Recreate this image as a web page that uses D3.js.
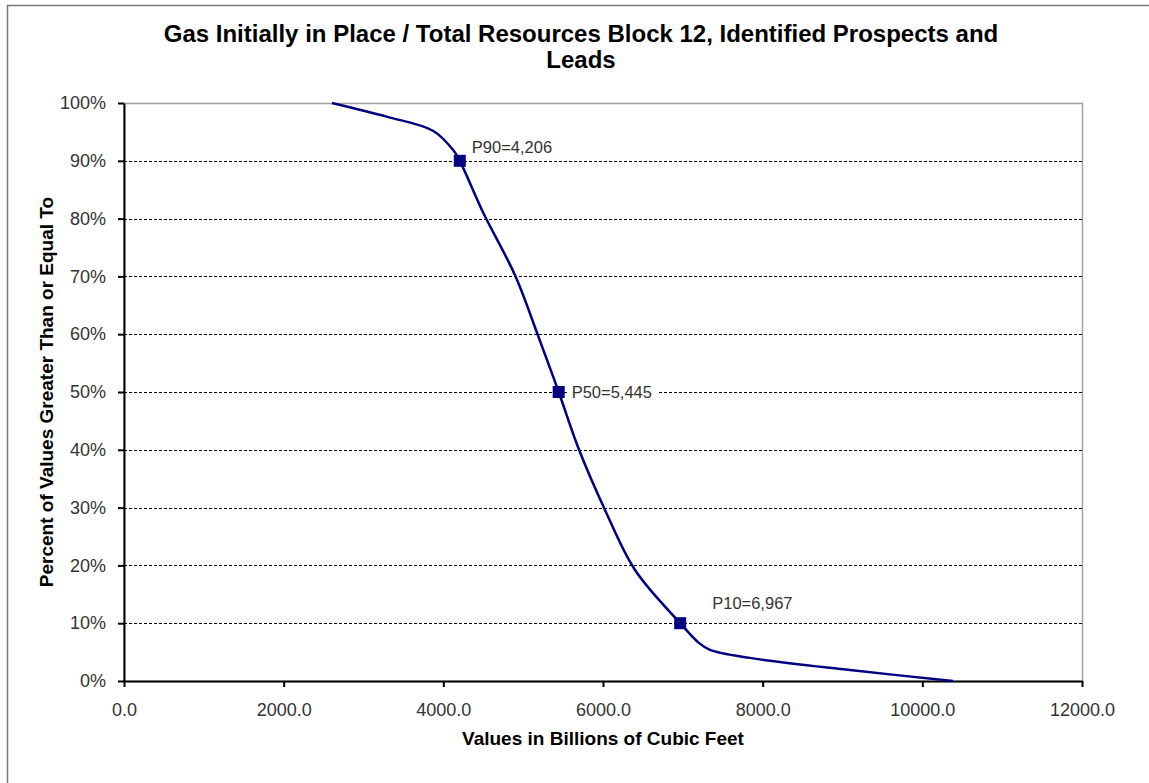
<!DOCTYPE html>
<html>
<head>
<meta charset="utf-8">
<script src="https://cdn.jsdelivr.net/npm/d3@7"></script>
<style>
  body { margin: 0; background: #fff; }
  svg { display: block; }
</style>
</head>
<body>
<svg id="chart" width="1149" height="783"></svg>
<script>
// Cumulative curve (x in BCF, y in %)
const curveX = [2605, 3300, 3870, 4121, 4206, 4500, 4898, 5180, 5445, 5700, 6025, 6401, 6967, 7200, 7340, 7841, 9094, 10384];
const curveY = [100, 97.6, 95.2, 91.9, 90, 81, 70.2, 60, 50, 40, 29.6, 19.2, 10, 6.6, 5.4, 4.0, 1.9, 0];

// Marked percentiles
const markerLabels = ["P90=4,206", "P50=5,445", "P10=6,967"];
const markerX = [4206, 5445, 6967];
const markerY = [90, 50, 10];

const xTicks = [0, 2000, 4000, 6000, 8000, 10000, 12000];
const yTicks = [0, 10, 20, 30, 40, 50, 60, 70, 80, 90, 100];

const margin = { top: 103, right: 67, bottom: 102, left: 124 };
const width = 1149, height = 783;
const innerWidth = width - margin.left - margin.right;
const innerHeight = height - margin.top - margin.bottom;

const font_family = 'Arial, "Liberation Sans", sans-serif';
const navy = '#000080';

const svg = d3.select("#chart");

// Outer chart border
svg.append("rect")
    .attr("x", 7.5).attr("y", 5.5)
    .attr("width", 1160).attr("height", 800)
    .attr("fill", "none")
    .attr("stroke", "#777")
    .attr("stroke-width", 1.5);

const xScale = d3.scaleLinear().domain([0, 12000]).range([0, innerWidth]);
const yScale = d3.scaleLinear().domain([0, 100]).range([innerHeight, 0]);

const g = svg.append("g")
    .attr("transform", `translate(${margin.left}, ${margin.top})`);

// Plot area border (top and right in gray)
g.append("rect")
    .attr("x", 0).attr("y", 0.5)
    .attr("width", innerWidth + 0.5).attr("height", innerHeight)
    .attr("fill", "none")
    .attr("stroke", "#a0a0a0")
    .attr("stroke-width", 1.5);

// Grid lines
g.selectAll(".grid")
    .data(yTicks.filter(d => d > 0 && d < 100))
    .enter().append("line")
    .attr("x1", 0).attr("x2", innerWidth)
    .attr("y1", d => Math.round(yScale(d)) + 0.5)
    .attr("y2", d => Math.round(yScale(d)) + 0.5)
    .attr("stroke", "#000")
    .attr("stroke-width", 1)
    .attr("stroke-dasharray", "3,2");

// Axes
const xAxis = g.append("g")
    .attr("transform", `translate(0, ${innerHeight})`)
    .call(d3.axisBottom(xScale).tickValues(xTicks).tickFormat(d3.format(".1f")).tickSize(6).tickSizeOuter(0));

const yAxis = g.append("g")
    .call(d3.axisLeft(yScale).tickValues(yTicks).tickFormat(d => d + "%").tickSize(6).tickSizeOuter(0));

[xAxis, yAxis].forEach(ax => {
    ax.select(".domain").attr("stroke", "#000").attr("stroke-width", 2);
    ax.selectAll(".tick line").attr("stroke", "#000").attr("stroke-width", 2);
    ax.selectAll("text")
        .style("font-size", "18px")
        .style("font-family", font_family)
        .style("fill", "#333");
});
xAxis.selectAll("text").attr("y", 35).attr("dy", 0);
yAxis.selectAll("text").attr("x", -18);

// Curve
const line = d3.line()
    .x((d, i) => xScale(curveX[i]))
    .y(d => yScale(d))
    .curve(d3.curveCatmullRom.alpha(0.5));

g.append("path")
    .datum(curveY)
    .attr("d", line)
    .attr("fill", "none")
    .attr("stroke", navy)
    .attr("stroke-width", 2.5);

// Markers
g.selectAll(".marker")
    .data(markerX)
    .enter().append("rect")
    .attr("x", d => xScale(d) - 6)
    .attr("y", (d, i) => yScale(markerY[i]) - 6)
    .attr("width", 12).attr("height", 12)
    .attr("fill", navy);

// Marker labels
const labelOffsets = [[12, -8], [13, 6], [32, -14]];
const labels = g.selectAll(".mlabel")
    .data(markerLabels)
    .enter().append("g")
    .attr("transform", (d, i) => `translate(${xScale(markerX[i]) + labelOffsets[i][0]}, ${yScale(markerY[i]) + labelOffsets[i][1]})`);

labels.append("rect")
    .attr("x", -4).attr("y", -15)
    .attr("width", 90).attr("height", 20)
    .attr("fill", (d, i) => i === 1 ? "#fff" : "none");

labels.append("text")
    .attr("font-family", font_family)
    .attr("font-size", "16.5px")
    .attr("fill", "#333")
    .text(d => d);

// Title
svg.append("text")
    .attr("x", 581).attr("y", 42)
    .attr("text-anchor", "middle")
    .attr("font-family", font_family)
    .attr("font-size", "24px")
    .attr("font-weight", "bold")
    .selectAll("tspan")
    .data(["Gas Initially in Place / Total Resources Block 12, Identified Prospects and", "Leads"])
    .enter().append("tspan")
    .attr("x", 581)
    .attr("dy", (d, i) => i === 0 ? 0 : 26)
    .text(d => d);

// X-axis title
svg.append("text")
    .attr("x", margin.left + innerWidth / 2)
    .attr("y", 745)
    .attr("text-anchor", "middle")
    .attr("font-family", font_family)
    .attr("font-size", "19px")
    .attr("font-weight", "bold")
    .text("Values in Billions of Cubic Feet");

// Y-axis title
svg.append("text")
    .attr("transform", "rotate(-90)")
    .attr("x", -(margin.top + innerHeight / 2))
    .attr("y", 53)
    .attr("text-anchor", "middle")
    .attr("font-family", font_family)
    .attr("font-size", "19px")
    .attr("font-weight", "bold")
    .text("Percent of Values Greater Than or Equal To");
</script>
</body>
</html>
